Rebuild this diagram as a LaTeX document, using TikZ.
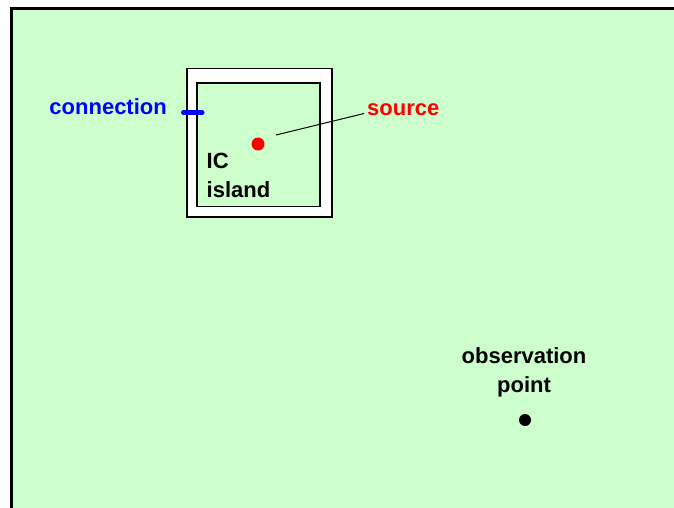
\documentclass[tikz,border=0pt]{standalone}
\usepackage{fontspec}
\setmainfont{Liberation Sans}
\definecolor{bggreen}{HTML}{CCFFCC}
\begin{document}
\begin{tikzpicture}[x=1pt,y=-1pt,
  lbl/.style={font=\bfseries\fontsize{22}{28.5}\selectfont, inner sep=0pt},
  dotmark/.style={circle, inner sep=0pt, minimum size=13pt}]
\useasboundingbox (0,0) rectangle (674,507);
% background
\draw[line width=3pt, fill=bggreen] (11,8) rectangle (690,520);
% IC frame
\draw[line width=1.1pt, fill=white] (187,68.5) rectangle (332,217);
\draw[line width=1.1pt, fill=bggreen] (197,83) rectangle (320,206.5);
% connection
\coordinate (c1) at (183.5,112.5);
\coordinate (c2) at (202,112.5);
\draw[blue, line width=5pt, line cap=round] (c1) -- (c2);
\node[lbl, text=blue, anchor=east] (conn) at (167,107) {connection};
% source
\node[dotmark, fill=red] (src) at (258,144) {};
\node[lbl, text=red, anchor=west] (srclbl) at (367,109.5) {source};
\coordinate (lead) at (276,135);
\draw[line width=1pt] (lead) -- ([shift={(-3pt,-4pt)}]srclbl.west);
% IC island
\node[lbl, anchor=north west, align=left] (ic) at (206.5,153) {IC\\island};
% observation point
\node[lbl, anchor=north, align=center] (obs) at (524,347.5) {observation\\point};
\node[dotmark, fill=black, minimum size=12pt] (op) at (525,420) {};
\end{tikzpicture}
\end{document}
